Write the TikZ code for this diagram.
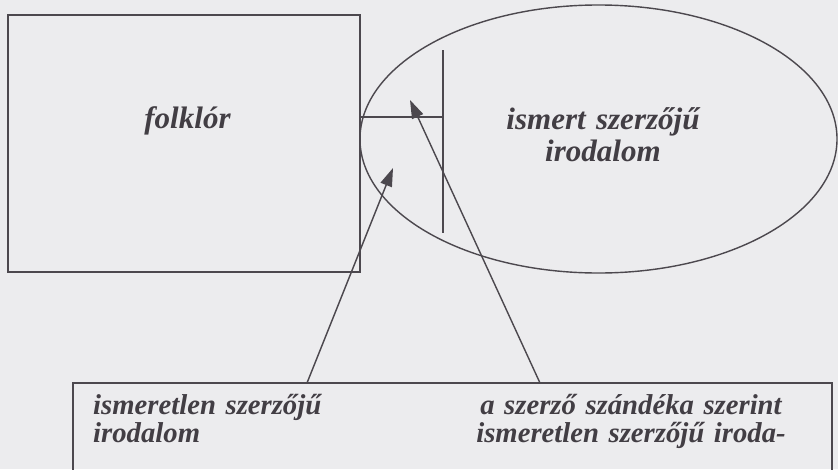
\documentclass[tikz,border=0pt]{standalone}
\usepackage{fontspec}
\setmainfont{Liberation Serif}
\usetikzlibrary{shapes.geometric,arrows.meta}

\definecolor{scanbg}{RGB}{236,236,238}
\definecolor{ink}{RGB}{76,72,78}
\definecolor{printink}{RGB}{66,62,68}

\tikzset{
  line/.style={draw=ink, line width=1.2pt},
  frame/.style={line, line width=1.5pt, inner sep=0pt, outer sep=0pt},
  lbl/.style={text=printink, inner sep=0pt, font=\fontsize{26.5}{28}\selectfont\bfseries\itshape},
  lowlbl/.style={lbl, font=\fontsize{24.5}{24.7}\selectfont\bfseries\itshape},
  pointer/.style={line, -{Triangle[length=0.55cm,width=0.36cm]}}
}

\begin{document}
\begin{tikzpicture}[x=0.03cm, y=-0.03cm]

% Page
\fill[scanbg] (0,0) rectangle (838,469);
\useasboundingbox (0,0) rectangle (838,469);

% Folklore box and literature ellipse
\node[frame, minimum width=10.56cm, minimum height=7.71cm] (folk) at (184,143.5) {};
\node[line, ellipse, inner sep=0pt, minimum width=14.31cm, minimum height=8.04cm] (ism) at (598.5,139) {};

% Bottom box (runs off the page)
\node[frame, minimum width=22.77cm, minimum height=3.51cm] (bot) at (452.5,441.5) {};

% Texts
\node[lbl, anchor=base] (folktxt) at (187.5,128) {folklór};
\node[lbl, anchor=base, text width=8cm, align=center] (ismtxt) at (603,129) {ismert szerzőjű\\irodalom};
\node[lowlbl, anchor=base west, text width=9cm, align=left] (lefttxt) at (93,414) {ismeretlen szerzőjű\\irodalom};
\node[lowlbl, anchor=base, text width=11cm, align=center] (righttxt) at (631,414) {a szerző szándéka szerint\\ismeretlen szerzőjű iroda-};

% Border line between the two
\coordinate (hl) at (443,117);
\coordinate (vtop) at (443,50);
\coordinate (vbot) at (443,233);
\draw[line] (folk.east |- hl) -- (hl);
\draw[line] (vtop) -- (vbot);

% Arrows from the bottom box
\coordinate (tailA) at (307,383);
\coordinate (tipA) at (393,168);
\coordinate (tailB) at (540,383);
\coordinate (tipB) at (410,100);
\draw[pointer] (tailA) -- (tipA);
\draw[pointer] (tailB) -- (tipB);

\end{tikzpicture}
\end{document}
